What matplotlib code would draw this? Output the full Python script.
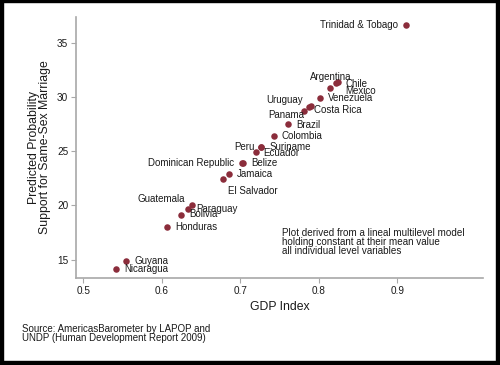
import matplotlib
matplotlib.use("Agg")
import matplotlib.pyplot as plt
from matplotlib.patches import Rectangle

plt.rcParams["font.family"] = ["Liberation Sans", "DejaVu Sans"]

# ── Datos ─────────────────────────────────────────────────────────────────────
countries = [
    "Trinidad & Tobago", "Argentina", "Chile", "Mexico", "Venezuela",
    "Uruguay", "Costa Rica", "Panama", "Brazil", "Colombia", "Suriname",
    "Peru", "Ecuador", "Belize", "Dominican Republic", "Jamaica",
    "El Salvador", "Guatemala", "Paraguay", "Bolivia", "Honduras",
    "Guyana", "Nicaragua",
]
gdp_index = [
    0.911, 0.825, 0.822, 0.814, 0.801,
    0.790, 0.787, 0.781, 0.761, 0.743, 0.727,
    0.727, 0.720, 0.703, 0.702, 0.686,
    0.678, 0.638, 0.634, 0.625, 0.607,
    0.555, 0.542,
]
prob_support = [
    36.6, 31.4, 31.3, 30.8, 29.9,
    29.2, 29.1, 28.7, 27.5, 26.4, 25.4,
    25.4, 24.9, 23.9, 23.9, 22.9,
    22.4, 20.0, 19.7, 19.1, 18.0,
    14.9, 14.1,
]
x_ticks = [0.5, 0.6, 0.7, 0.8, 0.9]
y_ticks = [15, 20, 25, 30, 35]

# ── Posición de las etiquetas (desplazamiento en px, y hacia abajo) ──────────
LABEL_POS = {
    "Trinidad & Tobago": (-8, 0, "right"),
    "Argentina": (-8, -4.5, "center"),
    "Chile": (9, 0.7, "left"),
    "Mexico": (15.7, 2.7, "left"),
    "Venezuela": (8, 0, "left"),
    "Uruguay": (-8, -5.3, "right"),
    "Costa Rica": (5, 3.7, "left"),
    "Panama": (0.3, 3.8, "right"),
    "Brazil": (8.4, 0.8, "left"),
    "Colombia": (7.4, 0, "left"),
    "Suriname": (7.6, 0, "left"),
    "Peru": (-7.2, 0.3, "right"),
    "Ecuador": (7.6, 1, "left"),
    "Belize": (8.7, 0, "left"),
    "Dominican Republic": (-8, 0, "right"),
    "Jamaica": (8, 0, "left"),
    "El Salvador": (5, 12, "left"),
    "Guatemala": (-6.7, -6.7, "right"),
    "Paraguay": (7.7, 0.7, "left"),
    "Bolivia": (8, -1.4, "left"),
    "Honduras": (8.4, 0, "left"),
    "Guyana": (8, 0, "left"),
    "Nicaragua": (8, 0, "left"),
}

MARKER_COLOR = "#8B2D3B"
AXIS_COLOR = "#A8A8A8"
TEXT_COLOR = "#1A1A1A"
PX = 0.72  # puntos por píxel a 100 dpi

fig = plt.figure(figsize=(5, 3.65), dpi=100)
fig.patch.set_facecolor("white")
ax = fig.add_axes([0.152, 0.2384, 0.814, 0.715])

ax.scatter(gdp_index, prob_support, s=22, color=MARKER_COLOR, zorder=3,
           linewidths=0)

for name, xv, yv in zip(countries, gdp_index, prob_support):
    dx, dy, ha = LABEL_POS[name]
    ax.annotate(name, (xv, yv), xytext=(dx * PX, -dy * PX),
                textcoords="offset points", ha=ha, va="center",
                fontsize=7, color=TEXT_COLOR)

ax.set_xlim(0.4907, 1.0092)
ax.set_ylim(13.31, 37.37)
ax.set_xticks(x_ticks)
ax.set_xticklabels([str(t) for t in x_ticks])
ax.set_yticks(y_ticks)

for side in ["top", "right"]:
    ax.spines[side].set_visible(False)
for side in ["left", "bottom"]:
    ax.spines[side].set_color(AXIS_COLOR)
    ax.spines[side].set_linewidth(1.2)
ax.tick_params(axis="both", colors=AXIS_COLOR, labelcolor=TEXT_COLOR,
               length=3.6, width=0.8, labelsize=7.2, pad=2)

ax.set_xlabel("GDP Index", fontsize=8.8, color=TEXT_COLOR, labelpad=4)
ax.set_ylabel("Predicted Probability\nSupport for Same-Sex Marriage",
              fontsize=8.8, color=TEXT_COLOR, linespacing=0.95, labelpad=4)

# Nota dentro del área del gráfico
ax.text(0.505, 0.138,
        "Plot derived from a lineal multilevel model\n"
        "holding constant at their mean value\n"
        "all individual level variables",
        transform=ax.transAxes, fontsize=7.1, color=TEXT_COLOR,
        va="center", ha="left", linespacing=0.85)

fig.text(21.7 / 500, 1 - 333.5 / 365,
         "Source: AmericasBarometer by LAPOP and\n"
         "UNDP (Human Development Report 2009)",
         fontsize=7, color=TEXT_COLOR, va="center", ha="left",
         linespacing=0.95)

# Marco negro alrededor de la figura
W, H = 500, 365
for (x0, y0, w, h) in [(0, 0, 3, H), (0, H - 2, W, 2),
                       (W - 4, 0, 4, H), (0, 0, W, 4)]:
    fig.add_artist(Rectangle((x0 / W, y0 / H), w / W, h / H,
                             transform=fig.transFigure, color="black",
                             zorder=10))

fig.savefig("out.png", dpi=100, facecolor="white")
